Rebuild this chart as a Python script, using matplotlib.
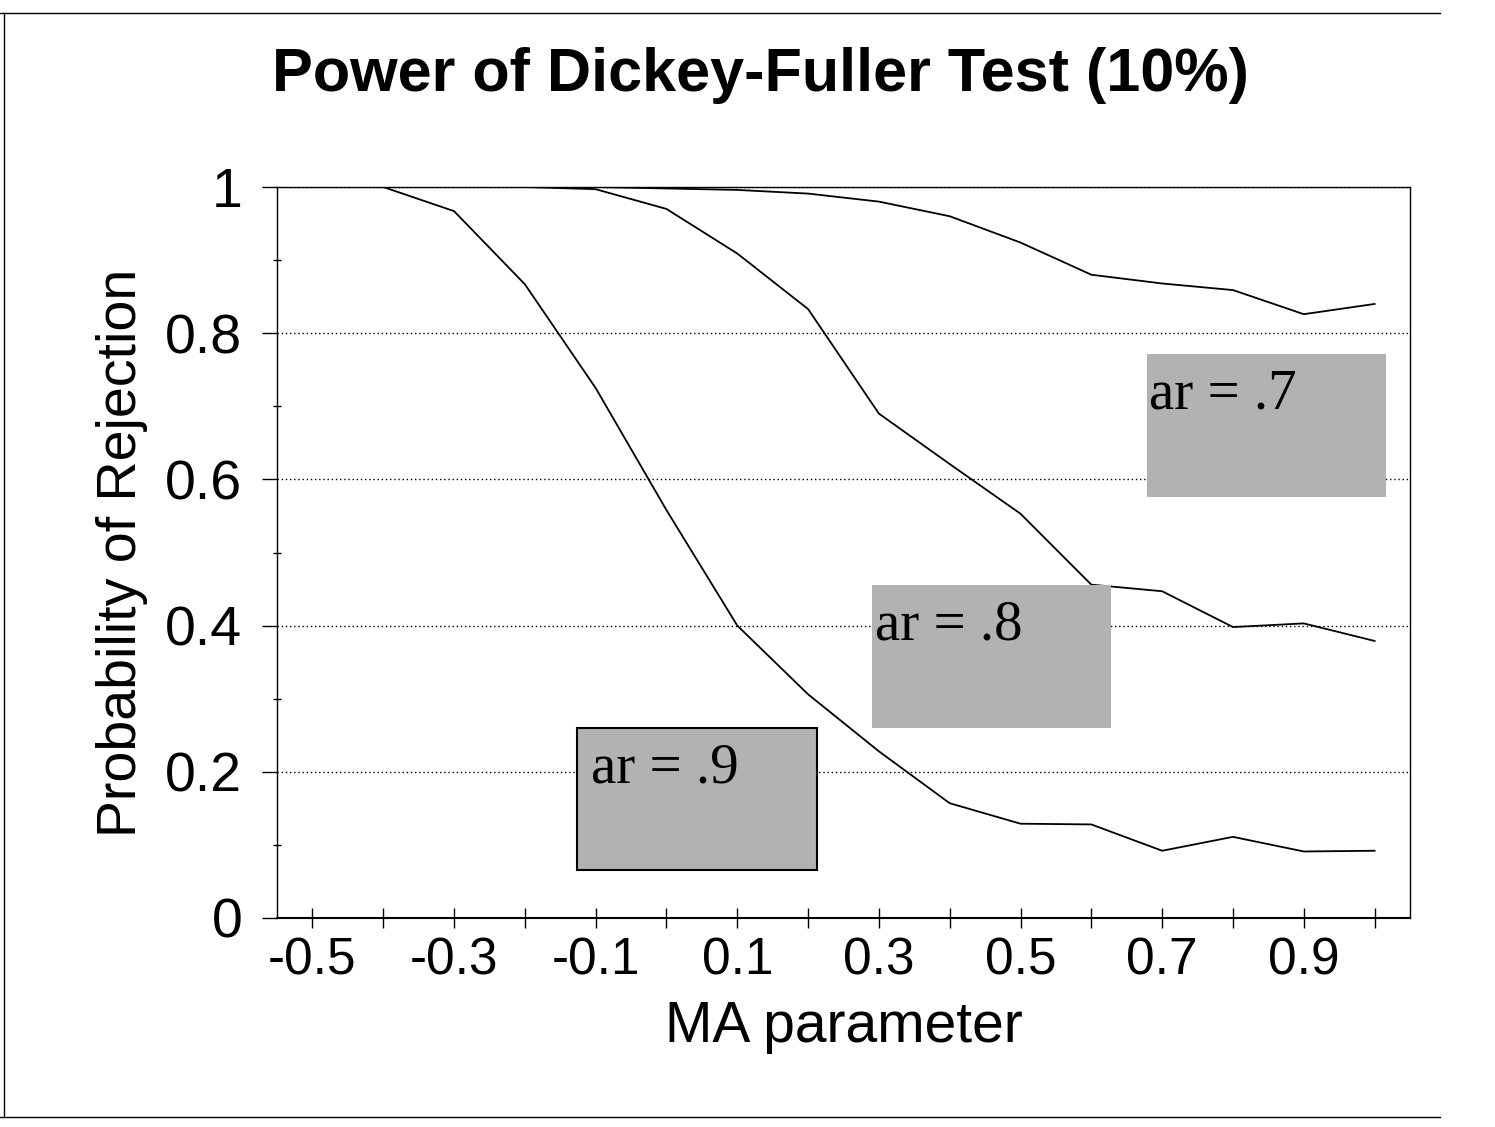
import matplotlib
matplotlib.use("Agg")
import matplotlib.pyplot as plt
from matplotlib.patches import Rectangle
from matplotlib.lines import Line2D

# data
ma_param = [-0.5, -0.4, -0.3, -0.2, -0.1, 0.0, 0.1, 0.2,
            0.3, 0.4, 0.5, 0.6, 0.7, 0.8, 0.9, 1.0]
power_ar7 = [1.0, 1.0, 1.0, 1.0, 1.0, 0.998, 0.996, 0.991,
             0.98, 0.96, 0.924, 0.88, 0.868, 0.859, 0.826, 0.84]
power_ar8 = [1.0, 1.0, 1.0, 1.0, 0.997, 0.97, 0.909, 0.833,
             0.69, 0.621, 0.553, 0.456, 0.447, 0.398, 0.403, 0.379]
power_ar9 = [1.0, 1.0, 0.967, 0.867, 0.725, 0.558, 0.40, 0.306,
             0.228, 0.157, 0.129, 0.128, 0.092, 0.111, 0.091, 0.092]
series_labels = ["ar = .7", "ar = .8", "ar = .9"]
xtick_labels = ["-0.5", "", "-0.3", "", "-0.1", "", "0.1", "", "0.3", "",
                "0.5", "", "0.7", "", "0.9", ""]
ytick_vals = [0, 0.2, 0.4, 0.6, 0.8, 1.0]
ytick_labels = ["0", "0.2", "0.4", "0.6", "0.8", "1"]

# label boxes (left, bottom) in data units, text nudge from the left edge
box_pos = [(0.678, 0.576), (0.290, 0.260), (-0.126, 0.065)]
text_dx = [0.003, 0.005, 0.020]
box_edge = ["none", "none", "black"]
box_w, box_h = 0.338, 0.195

W, H = 1495, 1127
fig = plt.figure(figsize=(W / 100, H / 100), dpi=100)
ax = fig.add_axes([277 / W, 1 - 918 / H, (1410 - 277) / W, 731 / H])

for vals in (power_ar7, power_ar8, power_ar9):
    ax.plot(ma_param, vals, color="black", lw=1.3, zorder=3)

for lab, (bx, by), dx, ec in zip(series_labels, box_pos, text_dx, box_edge):
    ax.add_patch(Rectangle((bx, by), box_w, box_h, facecolor="#b2b2b2",
                           edgecolor=ec, lw=1.5, zorder=4))
    ax.text(bx + dx, by + box_h - 0.074, lab, family="Liberation Serif",
            fontsize=41, va="baseline", ha="left", zorder=5)

ax.set_xlim(-0.55, 1.05)
ax.set_ylim(0, 1)
ax.set_xticks(ma_param)
ax.set_xticklabels(xtick_labels, family="Liberation Sans", fontsize=37)
ax.set_yticks(ytick_vals)
ax.set_yticklabels(ytick_labels, family="Liberation Sans", fontsize=40)
ax.set_yticks([0.1, 0.3, 0.5, 0.7, 0.9], minor=True)
ax.tick_params(axis="x", direction="inout", length=14, width=1, pad=6)
ax.tick_params(axis="y", which="major", direction="out", length=11,
               width=1, pad=14)
ax.tick_params(axis="y", which="minor", direction="inout", length=6, width=1)

ax.yaxis.grid(True, linestyle=(0, (1, 2)), color="black", lw=1)
ax.set_axisbelow(True)
for side in ("top", "right", "left"):
    ax.spines[side].set_linewidth(1)
ax.spines["bottom"].set_linewidth(1.5)

ax.set_xlabel("MA parameter", family="Liberation Sans", fontsize=41,
              labelpad=11)
ax.set_ylabel("Probability of Rejection", family="Liberation Sans",
              fontsize=40, labelpad=12)

fig.text(760 / W, 1 - 75 / H, "Power of Dickey-Fuller Test (10%)",
         family="Liberation Sans", weight="bold", fontsize=44,
         ha="center", va="center")

# slide frame lines from the scan
fig.add_artist(Line2D([0, 1440 / W], [1 - 13 / H, 1 - 13 / H],
                      color="black", lw=1))
fig.add_artist(Line2D([0, 1440 / W], [1 - 1117 / H, 1 - 1117 / H],
                      color="black", lw=1))
fig.add_artist(Line2D([4 / W, 4 / W], [1 - 13 / H, 1 - 1117 / H],
                      color="black", lw=1))

fig.savefig("out.png", dpi=100)
